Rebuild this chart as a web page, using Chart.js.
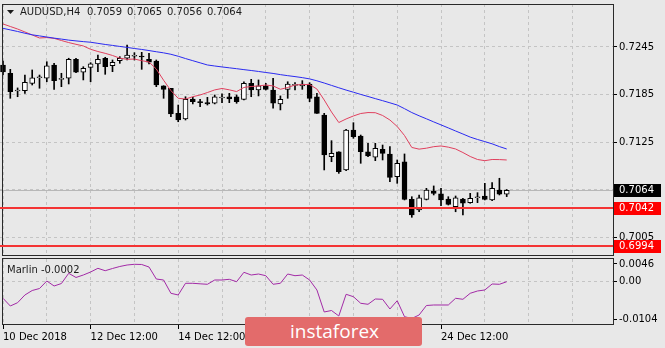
<!DOCTYPE html>
<html>
<head>
<meta charset="utf-8">
<script src="https://cdn.jsdelivr.net/npm/chart.js@4.4.1/dist/chart.umd.min.js"></script>
<style>
  html, body { margin: 0; padding: 0; background: #e8e8e8; }
  #wrap { position: relative; width: 665px; height: 348px; overflow: hidden; background: #e8e8e8; }
  #main { position: absolute; left: 0; top: 0; }
  #ind { position: absolute; left: 0; top: 257px; }
  .logo {
    position: absolute; left: 245px; top: 317px; width: 177px; height: 29px;
    background: #e36b6b; border-radius: 3px; color: #fff;
    font: 19px 'Open Sans', sans-serif; line-height: 28px; box-sizing: border-box; padding-left: 45px;
  }
</style>
</head>
<body>
<div id="wrap">
  <canvas id="main" width="665" height="257"></canvas>
  <canvas id="ind" width="665" height="91"></canvas>
  <div class="logo">instaforex</div>
</div>
<script>
// AUDUSD H4 candles, 10 Dec 12:00 .. 26 Dec
const opens = [0.72223,0.72118,0.71894,0.71898,0.71991,0.72062,0.72055,0.72223,0.72042,0.72055,
  0.72294,0.72131,0.72193,0.72236,0.72308,0.72214,0.72277,0.72308,0.72333,0.72333,
  0.72294,0.72273,0.71961,0.71929,0.71612,0.71541,0.71793,0.71756,0.71749,0.71739,
  0.71806,0.71822,0.71822,0.71789,0.71991,0.71907,0.71958,0.71907,0.71731,0.71915,
  0.71966,0.71958,0.71983,0.71822,0.71591,0.71065,0.71127,0.70897,0.71402,0.71326,
  0.71127,0.71057,0.71158,0.71099,0.70812,0.71001,0.70526,0.70392,0.70526,0.70631,
  0.70594,0.70530,0.70433,0.70530,0.70484,0.70546,0.70568,0.70518,0.70644,0.70590];
const highs = [0.72273,0.72168,0.71933,0.72096,0.72160,0.72096,0.72264,0.72244,0.72118,0.72308,
  0.72308,0.72201,0.72252,0.72349,0.72320,0.72286,0.72328,0.72475,0.72378,0.72383,
  0.72370,0.72286,0.71961,0.71929,0.71717,0.71822,0.71814,0.71789,0.71814,0.71844,
  0.71857,0.71865,0.71844,0.72011,0.72042,0.72034,0.71991,0.72055,0.71832,0.72011,
  0.71999,0.72025,0.71999,0.71865,0.71612,0.71267,0.71127,0.71410,0.71494,0.71338,
  0.71233,0.71233,0.71212,0.71191,0.71023,0.71099,0.70559,0.70581,0.70665,0.70695,
  0.70665,0.70559,0.70568,0.70539,0.70602,0.70610,0.70728,0.70736,0.70792,0.70650];
const lows = [0.72096,0.71802,0.71822,0.71865,0.71970,0.71929,0.72011,0.71915,0.71949,0.71983,
  0.72126,0.72034,0.72011,0.72138,0.72105,0.72138,0.72244,0.72286,0.72286,0.72168,
  0.72236,0.71949,0.71802,0.71570,0.71506,0.71528,0.71731,0.71696,0.71717,0.71731,
  0.71747,0.71747,0.71739,0.71781,0.71822,0.71832,0.71907,0.71676,0.71655,0.71802,
  0.71907,0.71915,0.71759,0.71612,0.70897,0.71001,0.70854,0.70888,0.71297,0.70981,
  0.71065,0.71014,0.71023,0.70748,0.70728,0.70518,0.70299,0.70369,0.70518,0.70581,
  0.70445,0.70454,0.70369,0.70328,0.70476,0.70484,0.70518,0.70509,0.70581,0.70560];
const closes = [0.72135,0.71885,0.71903,0.72004,0.72062,0.72071,0.72211,0.72025,0.72050,0.72294,
  0.72131,0.72181,0.72236,0.72294,0.72201,0.72257,0.72308,0.72349,0.72340,0.72324,
  0.72257,0.71970,0.71915,0.71604,0.71528,0.71789,0.71759,0.71747,0.71731,0.71822,
  0.71814,0.71793,0.71759,0.71991,0.71907,0.71958,0.71915,0.71739,0.71789,0.71983,
  0.71974,0.71983,0.71802,0.71612,0.71086,0.71107,0.70875,0.71402,0.71317,0.71127,
  0.71074,0.71171,0.71107,0.70804,0.70981,0.70526,0.70328,0.70546,0.70644,0.70602,
  0.70518,0.70463,0.70546,0.70476,0.70539,0.70555,0.70526,0.70665,0.70590,0.70640];

// moving averages (red = fast, blue = slow)
const maFast = [0.72741,0.72709,0.72677,0.72640,0.72602,0.72564,0.72569,0.72559,0.72532,0.72506,
  0.72484,0.72463,0.72421,0.72393,0.72370,0.72343,0.72309,0.72294,0.72298,0.72277,
  0.72261,0.72172,0.72030,0.71900,0.71802,0.71793,0.71822,0.71844,0.71875,0.71908,
  0.71926,0.71909,0.71887,0.71939,0.71951,0.71958,0.71970,0.71958,0.71916,0.71939,
  0.71970,0.71976,0.71976,0.71919,0.71781,0.71629,0.71496,0.71541,0.71579,0.71610,
  0.71622,0.71620,0.71585,0.71528,0.71446,0.71332,0.71181,0.71160,0.71172,0.71191,
  0.71200,0.71185,0.71162,0.71117,0.71067,0.71029,0.71014,0.71029,0.71028,0.71023];
const maSlow = [0.72686,0.72666,0.72646,0.72624,0.72604,0.72590,0.72576,0.72562,0.72550,0.72537,
  0.72527,0.72518,0.72510,0.72496,0.72482,0.72470,0.72457,0.72445,0.72431,0.72419,
  0.72405,0.72390,0.72376,0.72358,0.72333,0.72304,0.72277,0.72250,0.72223,0.72210,
  0.72198,0.72187,0.72176,0.72164,0.72153,0.72141,0.72128,0.72116,0.72101,0.72088,
  0.72076,0.72063,0.72047,0.72023,0.71995,0.71965,0.71935,0.71906,0.71879,0.71851,
  0.71825,0.71798,0.71772,0.71745,0.71717,0.71671,0.71622,0.71581,0.71543,0.71504,
  0.71466,0.71428,0.71389,0.71351,0.71312,0.71282,0.71255,0.71227,0.71192,0.71162];

// Marlin oscillator
const marlin = [-0.00467,-0.00675,-0.00586,-0.00378,-0.00257,-0.00203,0.00000,-0.00135,-0.00068,0.00208,
  0.00095,0.00162,0.00243,0.00343,0.00278,0.00338,0.00392,0.00432,0.00451,0.00446,
  0.00378,0.00054,0.00027,-0.00332,-0.00378,-0.00062,-0.00062,-0.00076,-0.00089,0.00027,
  0.00027,0.00046,-0.00019,0.00235,0.00162,0.00189,0.00143,-0.00089,-0.00062,0.00189,
  0.00143,0.00162,0.00027,-0.00243,-0.00837,-0.00797,-0.00945,-0.00359,-0.00424,-0.00602,
  -0.00629,-0.00486,-0.00494,-0.00756,-0.00532,-0.00964,-0.01013,-0.00918,-0.00662,-0.00648,
  -0.00648,-0.00648,-0.00467,-0.00494,-0.00332,-0.00270,-0.00243,-0.00081,-0.00089,-0.00019];

const levels = [0.7042, 0.6994];
const priceTicks = [0.7005, 0.7065, 0.7125, 0.7185, 0.7245];
const marlinTicks = [-0.0104, 0, 0.0046];
const dateLabels = ['10 Dec 2018', '12 Dec 12:00', '14 Dec 12:00', '18 Dec 12:00', '20 Dec 12:00', '24 Dec 12:00'];
const dateBars = [0, 12, 24, 36, 48, 60];

const X_MIN = -0.411, X_MAX = 83.56;
const Y_MIN = 0.698101, Y_MAX = 0.729931;
const GRID = '#c4c4c4';
const last = closes.length - 1;
const bid = closes[last];

Chart.defaults.font.family = 'DejaVu Sans';
Chart.defaults.font.size = 10;
Chart.defaults.color = '#000';

const gridBars = [];
for (let b = 0; b <= X_MAX; b += 6) gridBars.push(b);

const xy = arr => arr.map((v, i) => ({ x: i, y: v }));
const isBid = c => c.tick && c.tick.value === bid;

const framePlugin = {
  id: 'frame',
  afterDatasetsDraw(chart, args, opts) {
    const { ctx } = chart;
    ctx.save();
    ctx.strokeStyle = '#2a2a2a';
    ctx.lineWidth = 1;
    ctx.beginPath();
    ctx.moveTo(2.5, opts.top); ctx.lineTo(2.5, opts.bottom);
    ctx.moveTo(613.5, opts.top); ctx.lineTo(613.5, opts.bottom);
    ctx.moveTo(2, opts.top + 0.5); ctx.lineTo(614, opts.top + 0.5);
    ctx.moveTo(2, opts.bottom - 0.5); ctx.lineTo(614, opts.bottom - 0.5);
    ctx.stroke();
    ctx.restore();
  }
};

const headerPlugin = {
  id: 'header',
  afterDraw(chart) {
    const { ctx } = chart;
    const y = chart.scales.y;
    ctx.save();
    // title
    ctx.fillStyle = '#1a1a1a';
    ctx.beginPath();
    ctx.moveTo(7, 10); ctx.lineTo(14, 10); ctx.lineTo(10.5, 14); ctx.closePath(); ctx.fill();
    ctx.font = '10px "DejaVu Sans"';
    ctx.textBaseline = 'middle';
    ctx.fillText('AUDUSD,H4', 20, 12);
    [opens[last], highs[last], lows[last], closes[last]].forEach((v, k) => {
      ctx.fillText(v.toFixed(4), 87 + k * 40, 12);
    });
    // price boxes on the axis
    const boxes = [{ v: bid, c: '#000' }].concat(levels.map(v => ({ v, c: '#ff0000' })));
    boxes.forEach(b => {
      const py = Math.round(y.getPixelForValue(b.v));
      ctx.fillStyle = b.c;
      ctx.fillRect(614, py - 6, 47, 13);
      ctx.fillStyle = '#fff';
      ctx.fillText(b.v.toFixed(4), 619, py + 0.5);
    });
    ctx.restore();
  }
};

new Chart(document.getElementById('main'), {
  type: 'bar',
  data: {
    datasets: [
      {
        label: 'wick', data: lows.map((l, i) => ({ x: i, y: [l, highs[i]] })),
        backgroundColor: '#000', barThickness: 1, grouped: false, order: 4
      },
      {
        label: 'body', data: opens.map((o, i) => ({ x: i, y: [o, closes[i]] })),
        backgroundColor: ctx => closes[ctx.dataIndex] >= opens[ctx.dataIndex] ? '#fff' : '#000',
        borderColor: '#000', borderWidth: 1, borderSkipped: false,
        barThickness: 5, minBarLength: 1, grouped: false, order: 3
      },
      {
        type: 'line', data: xy(maSlow), borderColor: '#2a2af0', borderWidth: 1,
        pointRadius: 0, order: 2
      },
      {
        type: 'line', data: xy(maFast), borderColor: '#e0405e', borderWidth: 1,
        pointRadius: 0, order: 2
      }
    ]
  },
  options: {
    responsive: false,
    animation: false,
    events: [],
    layout: { padding: { top: 4, left: 0, right: 0, bottom: 1 } },
    plugins: { legend: { display: false }, tooltip: { enabled: false }, frame: { top: 4, bottom: 256 } },
    scales: {
      x: {
        type: 'linear', min: X_MIN, max: X_MAX, offset: false,
        grid: { color: GRID, drawTicks: false, offset: false },
        border: { display: false, dash: [3, 3] },
        ticks: { display: false },
        afterBuildTicks: s => { s.ticks = gridBars.map(v => ({ value: v })); },
        afterFit: s => { s.height = 0; s.paddingLeft = 0; s.paddingRight = 0; }
      },
      // price axis with the grid and the bid line underneath the candles
      y: {
        type: 'linear', position: 'right', min: Y_MIN, max: Y_MAX,
        grid: {
          color: c => isBid(c) ? '#b8b8b8' : GRID,
          tickColor: c => isBid(c) ? 'rgba(0,0,0,0)' : '#000',
          tickLength: 4, tickBorderDash: []
        },
        border: { display: false, dash: c => isBid(c) ? [] : [3, 3] },
        ticks: { padding: 2, callback: v => v === bid ? '' : v.toFixed(4) },
        afterBuildTicks: s => { s.ticks = priceTicks.concat([bid]).map(v => ({ value: v })); },
        afterFit: s => { s.width = 52; s.paddingTop = 0; s.paddingBottom = 0; }
      },
      // horizontal level lines drawn above the candles
      levels: {
        type: 'linear', position: 'right', min: Y_MIN, max: Y_MAX,
        grid: { color: '#f43434', lineWidth: 2, drawTicks: false, z: 1 },
        border: { display: false, dash: [] },
        ticks: { display: false },
        afterBuildTicks: s => { s.ticks = levels.map(v => ({ value: v })); },
        afterFit: s => { s.width = 0; s.paddingTop = 0; s.paddingBottom = 0; }
      }
    }
  },
  plugins: [framePlugin, headerPlugin]
});

const marlinLabel = {
  id: 'marlinLabel',
  afterDraw(chart) {
    const { ctx } = chart;
    ctx.save();
    ctx.fillStyle = '#1a1a1a';
    ctx.font = '10px "DejaVu Sans"';
    ctx.textBaseline = 'middle';
    ctx.fillText('Marlin ' + marlin[last].toFixed(4), 7, 13);
    ctx.restore();
  }
};

new Chart(document.getElementById('ind'), {
  type: 'line',
  data: {
    datasets: [{
      data: xy(marlin), borderColor: '#a22aa6', borderWidth: 1, pointRadius: 0
    }]
  },
  options: {
    responsive: false,
    animation: false,
    events: [],
    layout: { padding: { top: 2, left: 0, right: 0, bottom: 0 } },
    plugins: { legend: { display: false }, tooltip: { enabled: false }, frame: { top: 1, bottom: 68 } },
    scales: {
      x: {
        type: 'linear', min: X_MIN, max: X_MAX, offset: false,
        grid: {
          color: GRID, tickLength: 4, tickBorderDash: [], offset: false,
          tickColor: c => (c.tick && dateBars.includes(c.tick.value)) ? '#000' : 'rgba(0,0,0,0)'
        },
        border: { display: false, dash: [3, 3] },
        ticks: {
          align: 'start', maxRotation: 0, autoSkip: false, padding: 2,
          callback: v => { const k = dateBars.indexOf(v); return k >= 0 ? dateLabels[k] : ''; }
        },
        afterBuildTicks: s => { s.ticks = gridBars.map(v => ({ value: v })); },
        afterFit: s => { s.height = 23; s.paddingLeft = 0; s.paddingRight = 0; }
      },
      y: {
        type: 'linear', position: 'right', min: -0.011886, max: 0.005943,
        grid: {
          color: c => (c.tick && c.tick.value === 0) ? GRID : 'rgba(0,0,0,0)',
          tickColor: '#000', tickLength: 4, tickBorderDash: []
        },
        border: { display: false, dash: [3, 3] },
        ticks: { padding: 2, callback: v => v === 0 ? '0.00' : v.toFixed(4) },
        afterBuildTicks: s => { s.ticks = marlinTicks.map(v => ({ value: v })); },
        afterFit: s => { s.width = 52; s.paddingTop = 0; s.paddingBottom = 0; }
      }
    }
  },
  plugins: [framePlugin, marlinLabel]
});
</script>
</body>
</html>
